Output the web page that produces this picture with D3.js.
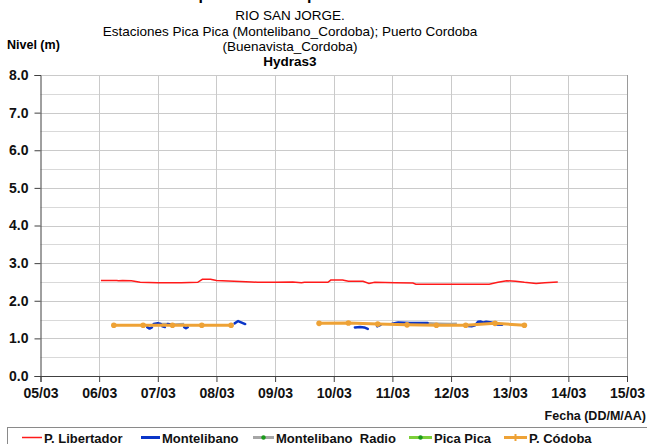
<!DOCTYPE html>
<html>
<head>
<meta charset="utf-8">
<script src="https://cdn.jsdelivr.net/npm/d3@7"></script>
<style>
  html, body { margin: 0; padding: 0; background: #fff; }
  svg { display: block; font-family: "Liberation Sans", Arial, sans-serif; }
</style>
</head>
<body>
<svg id="chart" width="647" height="444"></svg>
<script>
// ---------------- DATA ----------------
const titleLines = ["RIO SAN JORGE.", "Estaciones Pica Pica (Montelibano_Cordoba); Puerto Cordoba", "(Buenavista_Cordoba)"];
const subTitle = "Hydras3";
const topTitle = "Reporte de nivel por estación";
const yLabel = "Nivel (m)";
const xLabel = "Fecha (DD/M/AA)";
const xTickDays = [5, 6, 7, 8, 9, 10, 11, 12, 13, 14, 15];
const xTickLabels = ["05/03", "06/03", "07/03", "08/03", "09/03", "10/03", "11/03", "12/03", "13/03", "14/03", "15/03"];
const yTicks = [0, 1, 2, 3, 4, 5, 6, 7, 8];
const seriesNames = ["P. Libertador", "Montelibano", "Montelibano  Radio", "Pica Pica", "P. Códoba"];

// P. Libertador (day of March, level)
const libertadorDays = [6.03, 6.3, 6.33, 6.4, 6.55, 6.7, 7.0, 7.4, 7.68, 7.76, 7.9, 8.0, 8.3, 8.6, 8.7, 9.0, 9.3, 9.45, 9.5, 9.9, 9.95, 10.15, 10.25, 10.5, 10.6, 10.7, 11.05, 11.35, 11.4, 12.65, 12.8, 12.95, 13.1, 13.25, 13.45, 13.6, 13.82];
const libertadorLevels = [2.54, 2.54, 2.53, 2.54, 2.53, 2.49, 2.48, 2.48, 2.49, 2.57, 2.57, 2.54, 2.52, 2.50, 2.49, 2.49, 2.50, 2.48, 2.49, 2.49, 2.55, 2.55, 2.52, 2.52, 2.46, 2.49, 2.48, 2.47, 2.44, 2.44, 2.49, 2.53, 2.52, 2.49, 2.46, 2.48, 2.50];

// Montelibano (null = gap)
const montelibanoDays = [6.82, 6.86, 6.90, 6.91, 6.93, 7.0, 7.05, 7.06, 7.08, 7.12, 7.14, 7.17, 7.22, 7.3, 7.45, 7.48, 7.51, 7.9, 8.31, 8.37, 8.43, 8.49, 9.0, 10.36, 10.45, 10.52, 10.58, 10.65, 10.74, 10.8, 10.9, 11.0, 11.1, 11.3, 11.6, 11.9, 12.29, 12.35, 12.41, 12.46, 12.5, 12.55, 12.6, 12.66, 12.72, 12.78, 12.87];
const montelibanoLevels = [1.30, 1.26, 1.29, null, 1.38, 1.40, 1.38, null, 1.32, 1.30, null, 1.38, 1.37, null, 1.30, 1.27, 1.30, null, 1.40, 1.46, 1.42, 1.38, null, 1.29, 1.30, 1.29, 1.25, null, 1.32, 1.36, null, 1.39, 1.42, 1.41, 1.41, null, 1.33, 1.32, 1.35, 1.44, 1.45, 1.42, 1.44, 1.43, 1.41, 1.37, 1.36];

// Montelibano Radio
const radioDays = [7.0, 7.15, 7.3, 7.45, 7.6, 11.6, 11.8, 12.0, 12.1];
const radioLevels = [1.38, 1.38, 1.37, 1.38, null, 1.40, 1.39, 1.38, 1.39];

// Pica Pica (no visible data)
const picaDays = [];
const picaLevels = [];

// P. Códoba
const cordobaDays = [6.25, 6.75, 7.25, 7.75, 8.25, 9.0, 9.75, 10.25, 10.75, 11.25, 11.75, 12.25, 12.75, 13.25];
const cordobaLevels = [1.35, 1.35, 1.35, 1.35, 1.35, null, 1.40, 1.41, 1.38, 1.36, 1.35, 1.35, 1.40, 1.35];

// ---------------- CHART ----------------
(function () {
const svg = d3.select("#chart");
const pL = 40.5, pR = 627, pT = 75, pB = 376;

const x = d3.scaleLinear().domain([5, 15]).range([pL, pR]);
const y = d3.scaleLinear().domain([0, 8]).range([pB, pT]);

const colors = {
  red: "#ff1a1a",
  blue: "#0a35c8",
  gray: "#a6a6a6",
  green: "#7ccf3a",
  greenDot: "#1a9a1a",
  orange: "#eea236"
};

// Top title (cut off at the top edge, as in the reference)
svg.append("text").attr("x", 290).attr("y", 0).attr("text-anchor", "middle")
  .attr("font-size", 16).attr("font-weight", "bold").attr("fill", "#000").text(topTitle);

// Titles
const titleY = [20, 36, 51];
titleLines.forEach((t, i) => {
  svg.append("text").attr("x", 290).attr("y", titleY[i]).attr("text-anchor", "middle")
    .attr("font-size", 13.5).attr("fill", "#000").text(t);
});
svg.append("text").attr("x", 290).attr("y", 66).attr("text-anchor", "middle")
  .attr("font-size", 13.5).attr("font-weight", "bold").attr("fill", "#000").text(subTitle);

svg.append("text").attr("x", 7).attr("y", 49).attr("font-size", 12.5)
  .attr("font-weight", "bold").attr("fill", "#000").text(yLabel);

// Gridlines
const g = svg.append("g");
const minor = d3.range(0.5, 8, 1);
g.selectAll("line.minor").data(minor).enter().append("line")
  .attr("x1", pL).attr("x2", pR).attr("y1", d => Math.round(y(d)) + 0.5).attr("y2", d => Math.round(y(d)) + 0.5)
  .attr("stroke", "#d9d9d9").attr("stroke-width", 1);
g.selectAll("line.hmajor").data(yTicks.slice(1)).enter().append("line")
  .attr("x1", pL).attr("x2", pR).attr("y1", d => Math.round(y(d)) + 0.5).attr("y2", d => Math.round(y(d)) + 0.5)
  .attr("stroke", "#cacaca").attr("stroke-width", 1);
g.selectAll("line.vmajor").data(xTickDays.slice(1, -1)).enter().append("line")
  .attr("x1", d => Math.round(x(d)) + 0.5).attr("x2", d => Math.round(x(d)) + 0.5)
  .attr("y1", pT).attr("y2", pB)
  .attr("stroke", "#cacaca").attr("stroke-width", 1);
g.append("line").attr("x1", pR + 0.5).attr("x2", pR + 0.5).attr("y1", pT).attr("y2", pB)
  .attr("stroke", "#9a9a9a").attr("stroke-width", 1);

// Axes
const yAxis = d3.axisLeft(y).tickValues(yTicks).tickSize(6).tickFormat(d3.format(".1f"));
const yg = svg.append("g").attr("transform", `translate(${pL},0)`).call(yAxis);
yg.select(".domain").attr("stroke", "#404040");
yg.selectAll(".tick line").attr("stroke", "#404040");
yg.selectAll(".tick text").attr("font-size", 14).attr("font-weight", "bold")
  .attr("font-family", "'Liberation Sans', Arial, sans-serif").attr("fill", "#111").attr("x", -12);

const xAxis = d3.axisBottom(x).tickValues(xTickDays).tickSize(6)
  .tickFormat((d, i) => xTickLabels[i]);
const xg = svg.append("g").attr("transform", `translate(0,${pB})`).call(xAxis);
xg.select(".domain").attr("stroke", "#404040");
xg.selectAll(".tick line").attr("stroke", "#404040");
xg.selectAll(".tick text").attr("font-size", 14).attr("font-weight", "bold")
  .attr("font-family", "'Liberation Sans', Arial, sans-serif").attr("fill", "#111").attr("y", 12);

svg.append("text").attr("x", 646).attr("y", 420).attr("text-anchor", "end")
  .attr("font-size", 12.5).attr("font-weight", "bold").attr("fill", "#111").text(xLabel);

// Series
const mk = (days, levels) => days.map((d, i) => ({ d, v: levels[i] }));
const line = d3.line().defined(p => p.v !== null).x(p => x(p.d)).y(p => y(p.v));

svg.append("path").datum(mk(radioDays, radioLevels)).attr("d", line)
  .attr("fill", "none").attr("stroke", colors.gray).attr("stroke-width", 2.5);
svg.append("path").datum(mk(picaDays, picaLevels)).attr("d", line)
  .attr("fill", "none").attr("stroke", colors.green).attr("stroke-width", 2.5);
svg.append("path").datum(mk(montelibanoDays, montelibanoLevels)).attr("d", line)
  .attr("fill", "none").attr("stroke", colors.blue).attr("stroke-width", 2.5)
  .attr("stroke-linejoin", "round").attr("stroke-linecap", "round");
const cordoba = mk(cordobaDays, cordobaLevels);
svg.append("path").datum(cordoba).attr("d", line)
  .attr("fill", "none").attr("stroke", colors.orange).attr("stroke-width", 3);
svg.selectAll("circle.cord").data(cordoba.filter(p => p.v !== null)).enter().append("circle")
  .attr("cx", p => x(p.d)).attr("cy", p => y(p.v)).attr("r", 2.8).attr("fill", colors.orange);
svg.append("path").datum(mk(libertadorDays, libertadorLevels)).attr("d", line)
  .attr("fill", "none").attr("stroke", colors.red).attr("stroke-width", 1.5);

// Legend
svg.append("rect").attr("x", 7.5).attr("y", 427.5).attr("width", 660).attr("height", 40)
  .attr("fill", "#fff").attr("stroke", "#8a8a8a").attr("stroke-width", 1);
const legendItems = [
  { name: seriesNames[0], color: colors.red, x1: 22, x2: 42, tx: 44, w: 1.5, marker: null },
  { name: seriesNames[1], color: colors.blue, x1: 141, x2: 160, tx: 162, w: 3, marker: null },
  { name: seriesNames[2], color: colors.gray, x1: 253, x2: 274, tx: 276, w: 3, marker: "dot" },
  { name: seriesNames[3], color: colors.green, x1: 409, x2: 432, tx: 434, w: 3, marker: "dot" },
  { name: seriesNames[4], color: colors.orange, x1: 504, x2: 527, tx: 529, w: 3, marker: "plus" }
];
const lg = svg.append("g");
legendItems.forEach(it => {
  const ly = 437.5;
  lg.append("line").attr("x1", it.x1).attr("x2", it.x2).attr("y1", ly).attr("y2", ly)
    .attr("stroke", it.color).attr("stroke-width", it.w);
  if (it.marker === "dot") {
    lg.append("circle").attr("cx", (it.x1 + it.x2) / 2).attr("cy", ly).attr("r", 2.2).attr("fill", colors.greenDot);
  } else if (it.marker === "plus") {
    lg.append("line").attr("x1", (it.x1 + it.x2) / 2).attr("x2", (it.x1 + it.x2) / 2)
      .attr("y1", ly - 3.5).attr("y2", ly + 3.5).attr("stroke", it.color).attr("stroke-width", 2);
  }
  lg.append("text").attr("x", it.tx).attr("y", 442.5).attr("font-size", 13)
    .attr("font-weight", "bold").attr("fill", "#111").style("white-space", "pre").text(it.name);
});
})();
</script>
</body>
</html>
